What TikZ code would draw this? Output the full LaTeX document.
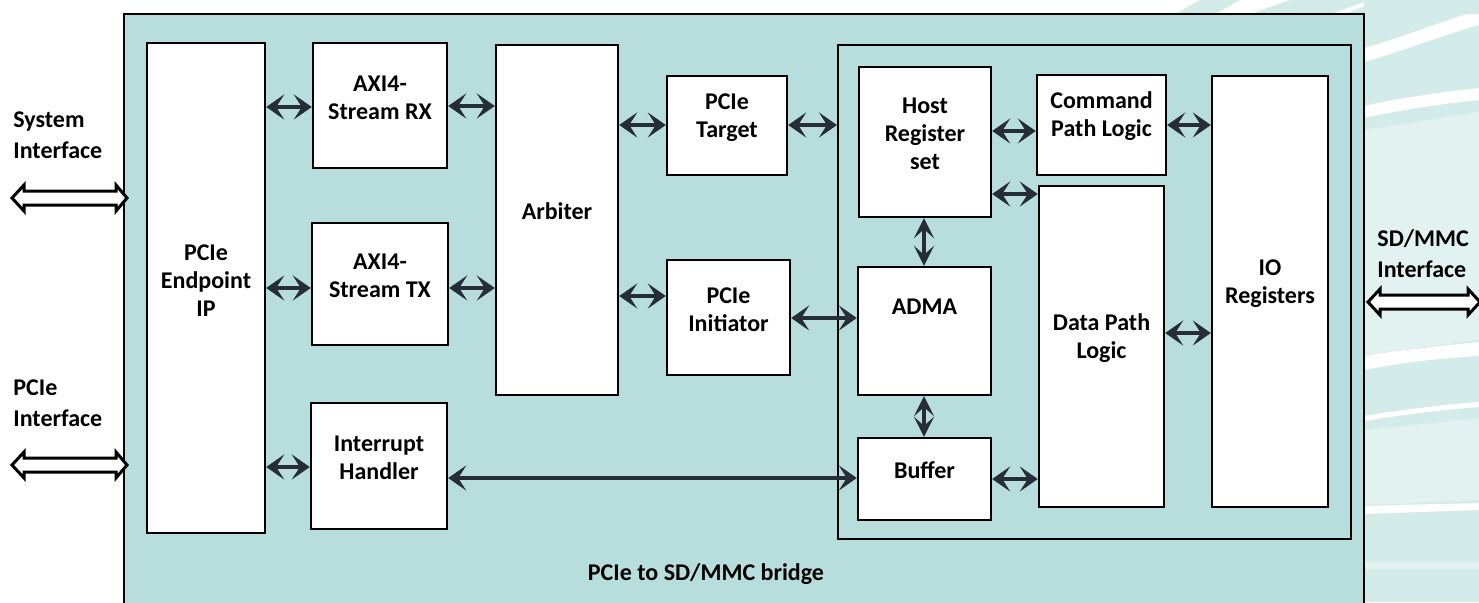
\documentclass[tikz,border=0pt]{standalone}
\usepackage{fontspec}
\setmainfont{Carlito}
\usetikzlibrary{arrows.meta,fit}
\definecolor{bg}{HTML}{B7DEDD}
\definecolor{lite}{HTML}{D3ECEA}
\definecolor{lite2}{HTML}{E2F2F1}
\definecolor{dark}{HTML}{262D37}
\begin{document}
\begin{tikzpicture}[x=0.5pt,y=-0.5pt,
  txt/.style={font=\bfseries\fontsize{12}{14}\selectfont, align=center},
  box/.style={draw=black, line width=1.2pt, fill=white, inner sep=0pt, txt},
  outerbox/.style={draw=black, line width=1.2pt, fill=bg, inner sep=0pt},
  innerbox/.style={draw=black, line width=1pt, inner sep=0pt},
  conn/.style={draw=dark, line width=2.4pt, {Stealth[length=9pt,width=12.5pt,inset=4pt]}-{Stealth[length=9pt,width=12.5pt,inset=4pt]}},
  vconn/.style={draw=dark, line width=2.4pt, {Stealth[length=10pt,width=10pt,inset=4.5pt]}-{Stealth[length=10pt,width=10pt,inset=4.5pt]}},
  iflbl/.style={font=\bfseries\fontsize{12}{15.5}\selectfont, align=left, anchor=north west, inner sep=0pt},
  hollow/.style={draw=black, line width=1.5pt, fill=white, line join=miter}
]
\useasboundingbox (0,0) rectangle (1479,602);
\clip (0,0) rectangle (1479,602);

% decorative background swooshes
\fill[lite] (1364,0) rectangle (1479,602);
\fill[lite2] (1364,130) .. controls (1400,125) and (1440,118) .. (1479,112) -- (1479,340) .. controls (1440,345) and (1400,350) .. (1364,355) -- cycle;
\fill[lite2] (1364,430) -- (1479,418) -- (1479,500) -- (1364,505) -- cycle;
\fill[white] (1364,48) .. controls (1400,38) and (1440,22) .. (1479,10) -- (1479,25) .. controls (1440,36) and (1400,52) .. (1364,62) -- cycle;
\fill[white] (1364,106) .. controls (1400,98) and (1440,92) .. (1479,88) -- (1479,100) .. controls (1440,104) and (1400,110) .. (1364,118) -- cycle;
\fill[white] (1364,356) .. controls (1400,350) and (1440,346) .. (1479,342) -- (1479,356) .. controls (1440,358) and (1400,363) .. (1364,370) -- cycle;
\fill[white] (1364,416) .. controls (1400,410) and (1440,405) .. (1479,402) -- (1479,407) .. controls (1440,410) and (1400,415) .. (1364,421) -- cycle;
\fill[white] (1364,506) .. controls (1400,505) and (1440,504) .. (1479,503) -- (1479,510) -- (1364,514) -- cycle;
\fill[lite2] (1364,562) -- (1479,562) -- (1479,569) -- (1364,569) -- cycle;
\fill[lite] (1175,14) -- (1200,0) -- (1240,0) -- (1215,14) -- cycle;
\fill[lite] (1250,14) -- (1290,0) -- (1370,0) -- (1330,14) -- cycle;
\fill[lite] (1345,14) -- (1380,0) -- (1479,0) -- (1479,14) -- cycle;

% outer box
\node[outerbox, fit={(124,14) (1364,640)}] (bridge) {};
\node[innerbox, fit={(838,45) (1351,539)}] (sdhc) {};
\node[txt, anchor=base] (title) at (706,580) {PCIe to SD/MMC bridge};

% blocks
\node[box, fit={(147,43) (265,533)}] (ep) {PCIe\\Endpoint\\IP};
\node[box, fit={(313,43) (447,168)}] (rx) {AXI4-\\Stream RX};
\node[box, fit={(312,223) (448,345)}] (tx) {AXI4-\\Stream TX};
\node[box, fit={(311,403) (447,529)}] (irq) {Interrupt\\Handler};
\node[box, fit={(496,45) (618,395)}] (arb) {Arbiter};
\node[box, fit={(667,76) (787,175)}] (tgt) {PCIe\\Target};
\node[box, fit={(667,260) (790,375)}] (ini) {PCIe\\Initiator};
\node[box, fit={(859,67) (991,217)}] (host) {Host\\Register\\set};
\node[box, fit={(858,267) (991,395)}, label={[txt, yshift=12pt]center:ADMA}] (adma) {};
\node[box, fit={(858,438) (991,520)}] (buf) {Buffer};
\node[box, fit={(1037,75) (1166,175)}] (cmd) {Command\\Path Logic};
\node[box, fit={(1039,186) (1164,507)}] (dat) {Data Path\\Logic};
\node[box, fit={(1212,76) (1328,507)}] (io) {IO\\Registers};

% interface labels
\node[iflbl] (syslbl) at (13,111) {System\\Interface};
\node[iflbl] (pcielbl) at (13,379) {PCIe\\Interface};
\node[iflbl] (sdlbl) at (1377,229) {SD/MMC\\Interface};

% hollow interface arrows
\draw[hollow] (12,198) -- (24,185) -- (24,191) -- (116,191) -- (116,185) -- (127,198) -- (116,211) -- (116,205) -- (24,205) -- (24,211) -- cycle;
\draw[hollow] (12,465) -- (24,452) -- (24,458) -- (116,458) -- (116,452) -- (127,465) -- (116,478) -- (116,472) -- (24,472) -- (24,478) -- cycle;
\draw[hollow] (1368,302) -- (1380,289) -- (1380,295) -- (1468,295) -- (1468,289) -- (1480,302) -- (1468,315) -- (1468,309) -- (1380,309) -- (1380,315) -- cycle;

% connectors
\draw[conn] (ep.east |- 0,107) -- (rx.west |- 0,107);
\draw[conn] (rx.east |- 0,106) -- (arb.west |- 0,106);
\draw[conn] (ep.east |- 0,288) -- (tx.west |- 0,288);
\draw[conn] (tx.east |- 0,288) -- (arb.west |- 0,288);
\draw[conn] (ep.east |- 0,467) -- (irq.west |- 0,467);
\draw[conn] (arb.east |- 0,125) -- (tgt.west |- 0,125);
\draw[conn] (arb.east |- 0,296) -- (ini.west |- 0,296);
\draw[conn] (tgt.east |- 0,125) -- (sdhc.west |- 0,125);
\draw[conn] (ini.east |- 0,318) -- (adma.west |- 0,318);
\draw[conn] (irq.east |- 0,478) -- (buf.west |- 0,478);
\draw[conn] (host.east |- 0,131) -- (cmd.west |- 0,131);
\draw[conn] (host.east |- 0,194) -- (dat.west |- 0,194);
\draw[vconn] (host.south -| 924,0) -- (adma.north -| 924,0);
\draw[vconn] (adma.south -| 924,0) -- (buf.north -| 924,0);
\draw[conn] (buf.east |- 0,479) -- (dat.west |- 0,479);
\draw[conn] (cmd.east |- 0,125) -- (io.west |- 0,125);
\draw[conn] (dat.east |- 0,333) -- (io.west |- 0,333);
\end{tikzpicture}
\end{document}
